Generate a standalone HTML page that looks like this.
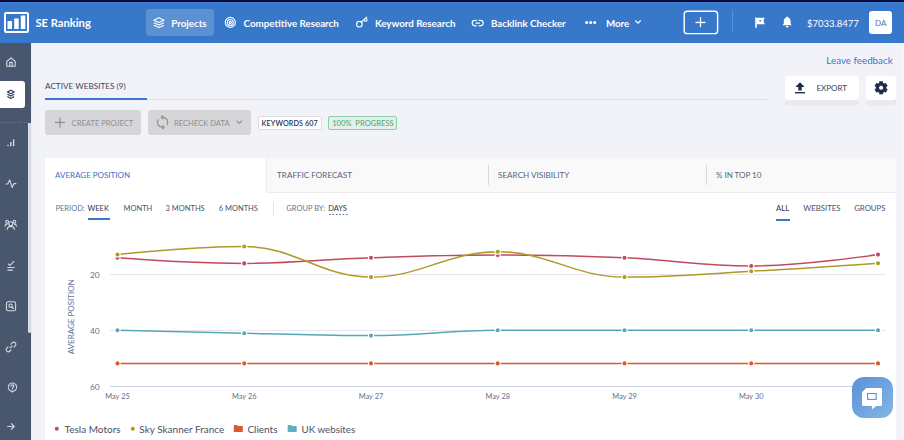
<!DOCTYPE html>
<html><head><meta charset="utf-8"><title>SE Ranking</title>
<style>
html,body{margin:0;padding:0;}
body{width:904px;height:440px;overflow:hidden;position:relative;background:#f2f3f8;font-family:"Lato","Liberation Sans",sans-serif;}
.t{position:absolute;white-space:nowrap;}
</style></head><body>
<div style="position:absolute;left:0px;top:0px;width:904px;height:1px;background:#140c3c"></div>
<div style="position:absolute;left:0px;top:1px;width:904px;height:1px;background:#0d0330"></div>
<div style="position:absolute;left:0px;top:2px;width:904px;height:41px;background:#3778ca"></div>
<div style="position:absolute;left:0px;top:2px;width:904px;height:1px;background:#3c83da"></div>
<div style="position:absolute;left:4px;top:12px;width:21px;height:17px;border:2px solid #fff;border-radius:2px"></div>
<div class="t" style="left:35.4px;top:15.75px;font-size:11.2px;line-height:13.44px;font-weight:700;color:#fff;">SE Ranking</div>
<div style="position:absolute;left:146px;top:9px;width:68px;height:27px;background:rgba(255,255,255,0.18);border-radius:3px"></div>
<div class="t" style="left:171.3px;top:18.18px;font-size:9.75px;line-height:11.70px;font-weight:700;color:#fff;">Projects</div>
<div class="t" style="left:243.6px;top:18.18px;font-size:9.75px;line-height:11.70px;font-weight:700;color:#fff;">Competitive Research</div>
<div class="t" style="left:374.9px;top:18.18px;font-size:9.75px;line-height:11.70px;font-weight:700;color:#fff;">Keyword Research</div>
<div class="t" style="left:490.9px;top:18.18px;font-size:9.75px;line-height:11.70px;font-weight:700;color:#fff;">Backlink Checker</div>
<div class="t" style="left:605.9px;top:18.18px;font-size:9.75px;line-height:11.70px;font-weight:700;color:#fff;">More</div>
<div style="position:absolute;left:732px;top:11px;width:1px;height:22px;background-image:linear-gradient(180deg,rgba(255,255,255,0.35) 50%,transparent 50%);background-size:1px 2px"></div>
<div class="t" style="left:807px;top:17.62px;font-size:9.5px;line-height:11.40px;font-weight:400;color:#fff;">$7033.8477</div>
<div style="position:absolute;left:869px;top:11px;width:23px;height:22.5px;background:#fff;border-radius:3px"></div>
<div class="t" style="left:875px;top:18.70px;font-size:8px;line-height:9.60px;font-weight:400;color:#5b6f9e;">DA</div>
<div style="position:absolute;left:0px;top:43px;width:31px;height:397px;background:#49576e"></div>
<div style="position:absolute;left:31px;top:43px;width:2px;height:397px;background:linear-gradient(90deg,#e8e9f0,#f2f3f8)"></div>
<div style="position:absolute;left:28px;top:122.5px;width:3px;height:210.5px;background:linear-gradient(90deg,#e3e4ec,#d4d6e2 55%,#d8dae5);border-radius:0 0 1.5px 1.5px"></div>
<div style="position:absolute;left:0px;top:81px;width:24.5px;height:27px;background:#fff;border-radius:0 3px 3px 0"></div>
<div style="position:absolute;left:0px;top:122px;width:28px;height:1px;background-image:linear-gradient(90deg,rgba(255,255,255,0.22) 40%,transparent 40%);background-size:3px 1px"></div>
<div class="t" style="left:826.3px;top:55.33px;font-size:9.8px;line-height:11.76px;font-weight:400;color:#4573cc;">Leave feedback</div>
<div class="t" style="left:45px;top:81.81px;font-size:8.2px;line-height:9.84px;font-weight:400;color:#3a4560;">ACTIVE WEBSITES (9)</div>
<div style="position:absolute;left:45px;top:98.5px;width:722px;height:1px;background:#dcdee6"></div>
<div style="position:absolute;left:45px;top:98.3px;width:102px;height:1.8px;background:#3d75cc"></div>
<div style="position:absolute;left:45px;top:110px;width:96px;height:25px;background:#d6d6d9;border-radius:3px"></div>
<div class="t" style="left:71.6px;top:118.60px;font-size:7.6px;line-height:9.12px;font-weight:400;color:#8f8f96;">CREATE PROJECT</div>
<div style="position:absolute;left:148px;top:110px;width:103px;height:25px;background:#d6d6d9;border-radius:3px"></div>
<div class="t" style="left:174px;top:118.70px;font-size:7.6px;line-height:9.12px;font-weight:400;color:#8f8f96;">RECHECK DATA</div>
<div style="position:absolute;left:258px;top:116px;width:62px;height:12px;background:#fff;border:1px solid #dcdde3;border-radius:2px"></div>
<div class="t" style="left:261.6px;top:119.59px;font-size:7.2px;line-height:8.64px;font-weight:600;color:#2a3152;letter-spacing:0.1px">KEYWORDS 607</div>
<div style="position:absolute;left:328px;top:116px;width:67px;height:12px;background:#e1f1e9;border:1px solid #8bcfaa;border-radius:2px"></div>
<div class="t" style="left:332.2px;top:118.70px;font-size:7.6px;line-height:9.12px;font-weight:400;color:#52a07c;">100%&nbsp; PROGRESS</div>
<div style="position:absolute;left:784.5px;top:76px;width:74.5px;height:24px;background:#fff;border-radius:3px;box-shadow:0 5.5px 0 #e9eaf1"></div>
<div class="t" style="left:816.4px;top:83.50px;font-size:8px;line-height:9.60px;font-weight:400;color:#3a4460;">EXPORT</div>
<div style="position:absolute;left:866px;top:76px;width:29.8px;height:24px;background:#fff;border-radius:3px;box-shadow:0 5.5px 0 #e9eaf1"></div>
<div style="position:absolute;left:45px;top:158px;width:851px;height:300px;background:#fff;border-radius:3px 3px 0 0"></div>
<div style="position:absolute;left:266px;top:158px;width:630px;height:35px;background:#f9f9fa;border-left:1px solid #ececf0;border-bottom:1px solid #ececf0;border-radius:0 4px 0 0;box-sizing:border-box"></div>
<div style="position:absolute;left:488px;top:165px;width:1px;height:20px;background:#d7d9e0"></div>
<div style="position:absolute;left:705.8px;top:165px;width:1px;height:20px;background:#d7d9e0"></div>
<div class="t" style="left:55px;top:171.00px;font-size:8px;line-height:9.60px;font-weight:400;color:#3d6fc4;">AVERAGE POSITION</div>
<div class="t" style="left:277.1px;top:170.91px;font-size:8.1px;line-height:9.72px;font-weight:400;color:#5a6275;">TRAFFIC FORECAST</div>
<div class="t" style="left:498px;top:170.86px;font-size:8.15px;line-height:9.78px;font-weight:400;color:#5a6275;">SEARCH VISIBILITY</div>
<div class="t" style="left:716px;top:171.00px;font-size:8px;line-height:9.60px;font-weight:400;color:#5a6275;">% IN TOP 10</div>
<div class="t" style="left:55.5px;top:204.20px;font-size:7.5px;line-height:9.00px;font-weight:400;color:#6b7385;">PERIOD:</div>
<div class="t" style="left:87.5px;top:204.20px;font-size:7.5px;line-height:9.00px;font-weight:400;color:#2c3550;">WEEK</div>
<div style="position:absolute;left:88px;top:218.2px;width:22px;height:1.8px;background:#3d75cc"></div>
<div class="t" style="left:123.5px;top:204.20px;font-size:7.5px;line-height:9.00px;font-weight:400;color:#4a5268;">MONTH</div>
<div class="t" style="left:165.5px;top:204.20px;font-size:7.5px;line-height:9.00px;font-weight:400;color:#4a5268;">3 MONTHS</div>
<div class="t" style="left:218.7px;top:204.20px;font-size:7.5px;line-height:9.00px;font-weight:400;color:#4a5268;">6 MONTHS</div>
<div style="position:absolute;left:272.5px;top:202px;width:1px;height:14px;background:#e3e5ea"></div>
<div class="t" style="left:286.3px;top:204.20px;font-size:7.5px;line-height:9.00px;font-weight:400;color:#6b7385;">GROUP BY:</div>
<div class="t" style="left:328.2px;top:204.20px;font-size:7.5px;line-height:9.00px;font-weight:400;color:#2c3550;">DAYS</div>
<div style="position:absolute;left:328.5px;top:214px;width:19.5px;height:1px;background-image:linear-gradient(90deg,#6b7385 60%,transparent 60%);background-size:3.4px 1px"></div>
<div class="t" style="left:776px;top:204.35px;font-size:7.75px;line-height:9.30px;font-weight:400;color:#2c3550;">ALL</div>
<div style="position:absolute;left:775.8px;top:219px;width:14px;height:1.8px;background:#3d75cc"></div>
<div class="t" style="left:803.3px;top:204.35px;font-size:7.75px;line-height:9.30px;font-weight:400;color:#4a5268;">WEBSITES</div>
<div class="t" style="left:854.2px;top:204.35px;font-size:7.75px;line-height:9.30px;font-weight:400;color:#4a5268;">GROUPS</div>
<svg style="position:absolute;left:0;top:0" width="904" height="440" viewBox="0 0 904 440"><path d="M 110 274.5 H 885.5" stroke="#e6e6ec" stroke-width="1"/><path d="M 110 330.5 H 885.5" stroke="#e6e6ec" stroke-width="1"/><path d="M 110 386.5 H 885.5" stroke="#ccd2e2" stroke-width="1"/><path d="M 117.50 363.40 C 117.50 363.40 193.55 363.40 244.25 363.40 C 294.95 363.40 320.30 363.40 371.00 363.40 C 421.70 363.40 447.05 363.40 497.75 363.40 C 548.45 363.40 573.80 363.40 624.50 363.40 C 675.20 363.40 700.55 363.40 751.25 363.40 C 801.95 363.40 878.00 363.40 878.00 363.40" fill="none" stroke="#d65a30" stroke-width="1.5"/><circle cx="117.50" cy="363.40" r="2.6" fill="#d65a30" stroke="#fff" stroke-width="1.1"/><circle cx="244.25" cy="363.40" r="2.6" fill="#d65a30" stroke="#fff" stroke-width="1.1"/><circle cx="371.00" cy="363.40" r="2.6" fill="#d65a30" stroke="#fff" stroke-width="1.1"/><circle cx="497.75" cy="363.40" r="2.6" fill="#d65a30" stroke="#fff" stroke-width="1.1"/><circle cx="624.50" cy="363.40" r="2.6" fill="#d65a30" stroke="#fff" stroke-width="1.1"/><circle cx="751.25" cy="363.40" r="2.6" fill="#d65a30" stroke="#fff" stroke-width="1.1"/><circle cx="878.00" cy="363.40" r="2.6" fill="#d65a30" stroke="#fff" stroke-width="1.1"/><path d="M 117.50 330.30 C 117.50 330.30 193.55 332.14 244.25 333.20 C 294.95 334.26 320.30 335.60 371.00 335.60 C 421.70 335.60 447.05 330.30 497.75 330.30 C 548.45 330.30 573.80 330.30 624.50 330.30 C 675.20 330.30 700.55 330.30 751.25 330.30 C 801.95 330.30 878.00 330.30 878.00 330.30" fill="none" stroke="#55a8b6" stroke-width="1.5"/><circle cx="117.50" cy="330.30" r="2.6" fill="#55a8b6" stroke="#fff" stroke-width="1.1"/><circle cx="244.25" cy="333.20" r="2.6" fill="#55a8b6" stroke="#fff" stroke-width="1.1"/><circle cx="371.00" cy="335.60" r="2.6" fill="#55a8b6" stroke="#fff" stroke-width="1.1"/><circle cx="497.75" cy="330.30" r="2.6" fill="#55a8b6" stroke="#fff" stroke-width="1.1"/><circle cx="624.50" cy="330.30" r="2.6" fill="#55a8b6" stroke="#fff" stroke-width="1.1"/><circle cx="751.25" cy="330.30" r="2.6" fill="#55a8b6" stroke="#fff" stroke-width="1.1"/><circle cx="878.00" cy="330.30" r="2.6" fill="#55a8b6" stroke="#fff" stroke-width="1.1"/><path d="M 117.50 257.80 C 117.50 257.80 193.55 263.40 244.25 263.40 C 294.95 263.40 320.30 259.46 371.00 257.80 C 421.70 256.14 447.05 255.10 497.75 255.10 C 548.45 255.10 573.80 255.62 624.50 257.80 C 675.20 259.98 700.55 266.00 751.25 266.00 C 801.95 266.00 878.00 254.60 878.00 254.60" fill="none" stroke="#c24a5e" stroke-width="1.5"/><circle cx="117.50" cy="257.80" r="2.6" fill="#c24a5e" stroke="#fff" stroke-width="1.1"/><circle cx="244.25" cy="263.40" r="2.6" fill="#c24a5e" stroke="#fff" stroke-width="1.1"/><circle cx="371.00" cy="257.80" r="2.6" fill="#c24a5e" stroke="#fff" stroke-width="1.1"/><circle cx="497.75" cy="255.10" r="2.6" fill="#c24a5e" stroke="#fff" stroke-width="1.1"/><circle cx="624.50" cy="257.80" r="2.6" fill="#c24a5e" stroke="#fff" stroke-width="1.1"/><circle cx="751.25" cy="266.00" r="2.6" fill="#c24a5e" stroke="#fff" stroke-width="1.1"/><circle cx="878.00" cy="254.60" r="2.6" fill="#c24a5e" stroke="#fff" stroke-width="1.1"/><path d="M 117.50 254.50 C 117.50 254.50 193.55 246.50 244.25 246.50 C 294.95 246.50 320.30 277.10 371.00 277.10 C 421.70 277.10 447.05 251.70 497.75 251.70 C 548.45 251.70 573.80 277.10 624.50 277.10 C 675.20 277.10 700.55 274.08 751.25 271.30 C 801.95 268.52 878.00 263.20 878.00 263.20" fill="none" stroke="#ad9a28" stroke-width="1.5"/><circle cx="117.50" cy="254.50" r="2.6" fill="#ad9a28" stroke="#fff" stroke-width="1.1"/><circle cx="244.25" cy="246.50" r="2.6" fill="#ad9a28" stroke="#fff" stroke-width="1.1"/><circle cx="371.00" cy="277.10" r="2.6" fill="#ad9a28" stroke="#fff" stroke-width="1.1"/><circle cx="497.75" cy="251.70" r="2.6" fill="#ad9a28" stroke="#fff" stroke-width="1.1"/><circle cx="624.50" cy="277.10" r="2.6" fill="#ad9a28" stroke="#fff" stroke-width="1.1"/><circle cx="751.25" cy="271.30" r="2.6" fill="#ad9a28" stroke="#fff" stroke-width="1.1"/><circle cx="878.00" cy="263.20" r="2.6" fill="#ad9a28" stroke="#fff" stroke-width="1.1"/></svg>
<div class="t" style="left:70px;width:29.6px;text-align:right;top:270.11px;font-size:8.4px;line-height:10px;color:#6b7280">20</div>
<div class="t" style="left:70px;width:29.6px;text-align:right;top:326.11px;font-size:8.4px;line-height:10px;color:#6b7280">40</div>
<div class="t" style="left:70px;width:29.6px;text-align:right;top:382.11px;font-size:8.4px;line-height:10px;color:#6b7280">60</div>
<div class="t" style="left:87.50px;width:60px;text-align:center;top:392.10px;font-size:7.4px;line-height:9px;color:#667085">May 25</div>
<div class="t" style="left:214.25px;width:60px;text-align:center;top:392.10px;font-size:7.4px;line-height:9px;color:#667085">May 26</div>
<div class="t" style="left:341.00px;width:60px;text-align:center;top:392.10px;font-size:7.4px;line-height:9px;color:#667085">May 27</div>
<div class="t" style="left:467.75px;width:60px;text-align:center;top:392.10px;font-size:7.4px;line-height:9px;color:#667085">May 28</div>
<div class="t" style="left:594.50px;width:60px;text-align:center;top:392.10px;font-size:7.4px;line-height:9px;color:#667085">May 29</div>
<div class="t" style="left:721.25px;width:60px;text-align:center;top:392.10px;font-size:7.4px;line-height:9px;color:#667085">May 30</div>
<div class="t" style="left:848.00px;width:60px;text-align:center;top:392.10px;font-size:7.4px;line-height:9px;color:#667085">May 31</div>
<div class="t" style="left:31.6px;top:312.2px;width:80px;text-align:center;font-size:8px;line-height:9.6px;color:#62729a;transform:rotate(-90deg)">AVERAGE POSITION</div>
<div class="t" style="left:64.5px;top:422.53px;font-size:10px;line-height:12.00px;font-weight:400;color:#4a5062;">Tesla Motors</div>
<div class="t" style="left:139.3px;top:422.53px;font-size:10px;line-height:12.00px;font-weight:400;color:#4a5062;">Sky Skanner France</div>
<div class="t" style="left:247.4px;top:422.53px;font-size:10px;line-height:12.00px;font-weight:400;color:#4a5062;">Clients</div>
<div class="t" style="left:301.6px;top:423.78px;font-size:9.75px;line-height:11.70px;font-weight:400;color:#4a5062;">UK websites</div>
<div style="position:absolute;left:852px;top:377px;width:41px;height:41px;border-radius:12px;background:linear-gradient(135deg,#5892d8,#84b5e5)"></div>
<div style="position:absolute;left:902.6px;top:43px;width:1.4px;height:397px;background:#f6f7fa"></div>
<svg style="position:absolute;left:0;top:0" width="904" height="440" viewBox="0 0 904 440"><g transform="translate(0 0)" fill="#fff"><rect x="7.5" y="21" width="4.5" height="8"/><rect x="14.2" y="18.5" width="4.5" height="10.5"/><rect x="20.8" y="15.5" width="4.5" height="13.5"/></g>
<g transform="translate(152.9 16.9) scale(0.9231 0.9231)" fill="none" stroke="#fff" stroke-width="1.2" stroke-linejoin="round"><path d="M6.5 1 L12 3.6 L6.5 6.2 L1 3.6 Z"/><path d="M1 6.3 L6.5 8.9 L12 6.3"/><path d="M1 9 L6.5 11.6 L12 9"/></g>
<g transform="translate(224.3 16.4)" fill="none" stroke="#fff" stroke-width="1.15"><circle cx="6" cy="6" r="5"/><circle cx="6" cy="6" r="2.95"/><circle cx="6" cy="6" r="1.05"/></g>
<g transform="translate(355 16)" fill="none" stroke="#fff" stroke-width="1.15" stroke-linecap="round"><circle cx="4.4" cy="8.2" r="2.8"/><path d="M6.4 6.2 L11.6 1.2"/><path d="M9.2 3.6 Q9.6 5.6 11 5.2 Q12.3 4.7 11.8 2.6"/></g>
<g transform="translate(471.3 18.1)" fill="none" stroke="#fff" stroke-width="1.15" stroke-linecap="round"><path d="M5 2.3 H3.6 a2.7 2.7 0 0 0 0 5.4 H5 M7.8 2.3 H9.2 a2.7 2.7 0 0 1 0 5.4 H7.8 M4.6 5 H8.2"/></g>
<g transform="translate(0 0)" fill="#fff"><circle cx="586.7" cy="22.4" r="1.5"/><circle cx="590.7" cy="22.4" r="1.5"/><circle cx="594.7" cy="22.4" r="1.5"/></g>
<g transform="translate(634.5 19.5)" fill="none" stroke="#fff" stroke-width="1.2"><path d="M0.8 1 L3.5 3.7 L6.2 1"/></g>
<g transform="translate(682 9)"><rect x="2.2" y="2.2" width="33.4" height="22.4" rx="3.2" fill="none" stroke="#fff" stroke-width="1.4"/></g>
<g transform="translate(0 0)" fill="#fff"><rect x="695.5" y="21.8" width="10" height="1.3"/><rect x="699.85" y="17.2" width="1.3" height="10"/></g>
<g transform="translate(755 17)"><path d="M1 0.4 V10.8" stroke="#fff" stroke-width="1.6"/><path d="M1.5 0.8 H10 Q8.6 2.1 8.6 3.8 Q8.6 5.5 10 7.2 H1.5 Z" fill="#fff"/><circle cx="5.2" cy="3.8" r="0.9" fill="#3778ca"/></g>
<g transform="translate(782.2 16)"><path d="M5 0.5 C5.6 0.5 5.9 0.9 5.9 1.4 C7.7 1.9 8.4 3.4 8.4 5.2 V7.6 L9.6 9.2 H0.4 L1.6 7.6 V5.2 C1.6 3.4 2.3 1.9 4.1 1.4 C4.1 0.9 4.4 0.5 5 0.5 Z" fill="#fff"/><path d="M3.6 10 H6.4 C6.4 10.9 5.8 11.5 5 11.5 C4.2 11.5 3.6 10.9 3.6 10 Z" fill="#fff"/></g>
<g transform="translate(6 57)" fill="none" stroke="#d3d7e0" stroke-width="1.1" stroke-linecap="round" stroke-linejoin="round"><path d="M0.8 4.5 L5 0.8 L9.2 4.5 V9.3 H0.8 Z"/><path d="M3.8 9.3 V5.4 H6.2 V9.3"/></g>
<g transform="translate(6.8 89.6)" fill="none" stroke="#2a3352" stroke-width="1.1" stroke-linejoin="round"><path d="M4 0.6 L7.4 2.4 L4 4.2 L0.6 2.4 Z"/><path d="M0.6 4.7 L4 6.5 L7.4 4.7"/><path d="M0.6 7 L4 8.8 L7.4 7"/></g>
<g transform="translate(7 138.5)" fill="none" stroke="#d3d7e0" stroke-width="1.1" stroke-linecap="round" stroke-linejoin="round"><path d="M1 7.8 V6.2 M3.8 7.8 V3.6 M6.6 7.8 V0.8" stroke-width="1.4" stroke-linecap="butt"/></g>
<g transform="translate(5.5 179)" fill="none" stroke="#d3d7e0" stroke-width="1.1" stroke-linecap="round" stroke-linejoin="round"><path d="M0.6 5 H2.2 L4.2 0.9 L6.6 8.4 L8.4 4.6 H10.4"/></g>
<g transform="translate(4.5 219.5)" fill="none" stroke="#d3d7e0" stroke-width="1.1" stroke-linecap="round" stroke-linejoin="round"><circle cx="6.25" cy="4.3" r="2"/><path d="M2.6 10 C2.9 7.7 4.3 6.9 6.25 6.9 C8.2 6.9 9.6 7.7 9.9 10"/><circle cx="2.6" cy="2.2" r="1.4"/><circle cx="9.9" cy="2.2" r="1.4"/><path d="M0.5 6.6 C0.7 5.2 1.5 4.6 2.6 4.6 M12 6.6 C11.8 5.2 11 4.6 9.9 4.6"/></g>
<g transform="translate(7 260.5)" fill="none" stroke="#d3d7e0" stroke-width="1.1" stroke-linecap="round" stroke-linejoin="round"><path d="M1.2 3.4 L3 5 L6.8 0.9"/><path d="M0.8 7 H7.2 M0.8 9.6 H5.5"/></g>
<g transform="translate(5.8 301)" fill="none" stroke="#d3d7e0" stroke-width="1.1" stroke-linecap="round" stroke-linejoin="round"><rect x="0.7" y="0.7" width="9.1" height="9.1" rx="1.6"/><circle cx="4.8" cy="4.7" r="1.7"/><path d="M6.1 6 L7.6 7.5"/></g>
<g transform="translate(5.8 341.7)" fill="none" stroke="#d3d7e0" stroke-width="1.1" stroke-linecap="round" stroke-linejoin="round"><path d="M4.3 6.2 L6.2 4.3"/><path d="M5.2 2.4 L6.4 1.2 C7.3 0.3 8.7 0.3 9.5 1.1 C10.3 1.9 10.3 3.3 9.4 4.2 L8.2 5.4"/><path d="M5.3 8.1 L4.1 9.3 C3.2 10.2 1.8 10.2 1 9.4 C0.2 8.6 0.2 7.2 1.1 6.3 L2.3 5.1"/></g>
<g transform="translate(6.8 382.5)" fill="none" stroke="#d3d7e0" stroke-width="1.1" stroke-linecap="round" stroke-linejoin="round"><path d="M5.5 8.9 A4.2 4.2 0 1 1 6.6 8.8 L5.5 9.6 Z"/><path d="M4.1 3.8 C4.1 2.9 4.8 2.4 5.6 2.4 C6.4 2.4 7 3 7 3.7 C7 4.6 5.6 4.8 5.6 5.9"/><path d="M5.6 7.2 V7.3"/></g>
<g transform="translate(7 423)" fill="none" stroke="#d3d7e0" stroke-width="1.1" stroke-linecap="round" stroke-linejoin="round"><path d="M0.6 3.5 H7.2 M4.4 0.7 L7.2 3.5 L4.4 6.3"/></g>
<g transform="translate(0 0)" fill="#8e8e94"><rect x="55" y="121.8" width="10" height="1.3"/><rect x="59.35" y="117.5" width="1.3" height="10"/></g>
<g transform="translate(156.6 115.3)" fill="none" stroke="#8e8e94" stroke-width="1.2" stroke-linecap="round" stroke-linejoin="round"><path d="M6.2 2 A5 5 0 0 1 10.5 9.5"/><path d="M6 12 A5 5 0 0 1 1.5 4.5"/><path d="M6.3 0.4 L4.6 2 L6.3 3.6"/><path d="M5.9 10.4 L7.6 12 L5.9 13.6"/></g>
<g transform="translate(235.8 119.8)" fill="none" stroke="#8e8e94" stroke-width="1.1"><path d="M0.8 0.9 L3.5 3.6 L6.2 0.9"/></g>
<g transform="translate(795 82)"><path d="M5 0.3 L9.6 5 H6.7 V8.4 H3.3 V5 H0.4 Z" fill="#1f2a4d"/><rect x="0" y="10" width="10" height="1.4" fill="#1f2a4d"/></g>
<g transform="translate(874.1 80.8)"><path d="M 4.55 2.76 L 5.13 2.36 L 5.43 0.69 L 8.57 0.69 L 8.87 2.36 L 9.45 2.76 L 10.08 3.06 L 11.68 2.48 L 13.25 5.21 L 11.95 6.30 L 11.90 7.00 L 11.95 7.70 L 13.25 8.79 L 11.68 11.52 L 10.08 10.94 L 9.45 11.24 L 8.87 11.64 L 8.57 13.31 L 5.43 13.31 L 5.13 11.64 L 4.55 11.24 L 3.92 10.94 L 2.32 11.52 L 0.75 8.79 L 2.05 7.70 L 2.10 7.00 L 2.05 6.30 L 0.75 5.21 L 2.32 2.48 L 3.92 3.06 Z M 7 4.7 A 2.3 2.3 0 1 0 7 9.3 A 2.3 2.3 0 1 0 7 4.7 Z" fill="#1f2a4d" fill-rule="evenodd" stroke="#1f2a4d" stroke-width="0.5" stroke-linejoin="round"/></g>
<g transform="translate(0 0)"><circle cx="56.8" cy="428.7" r="2" fill="#c24a5e"/></g>
<g transform="translate(0 0)"><circle cx="132.8" cy="428.7" r="2" fill="#ad9a28"/></g>
<g transform="translate(233.8 425.1)"><path d="M0 0.4 Q0 0 0.4 0 H3.2 L4.1 1 H8.6 Q9 1 9 1.4 V6.6 Q9 7 8.6 7 H0.4 Q0 7 0 6.6 Z" fill="#d65a2c"/></g>
<g transform="translate(287.7 425.1)"><path d="M0 0.4 Q0 0 0.4 0 H3.2 L4.1 1 H8.6 Q9 1 9 1.4 V6.6 Q9 7 8.6 7 H0.4 Q0 7 0 6.6 Z" fill="#5eafbb"/></g>
<g transform="translate(861 387)"><path d="M1 5.2 L5.2 1 H19.6 Q21 1 21 2.4 V17.6 Q21 19 19.6 19 H15.3 L10.9 22.6 V19 H2.4 Q1 19 1 17.6 Z" fill="#fff"/><rect x="6.6" y="6.5" width="8.6" height="5.9" fill="none" stroke="#5a93d8" stroke-width="1.1"/></g></svg>
</body></html>
